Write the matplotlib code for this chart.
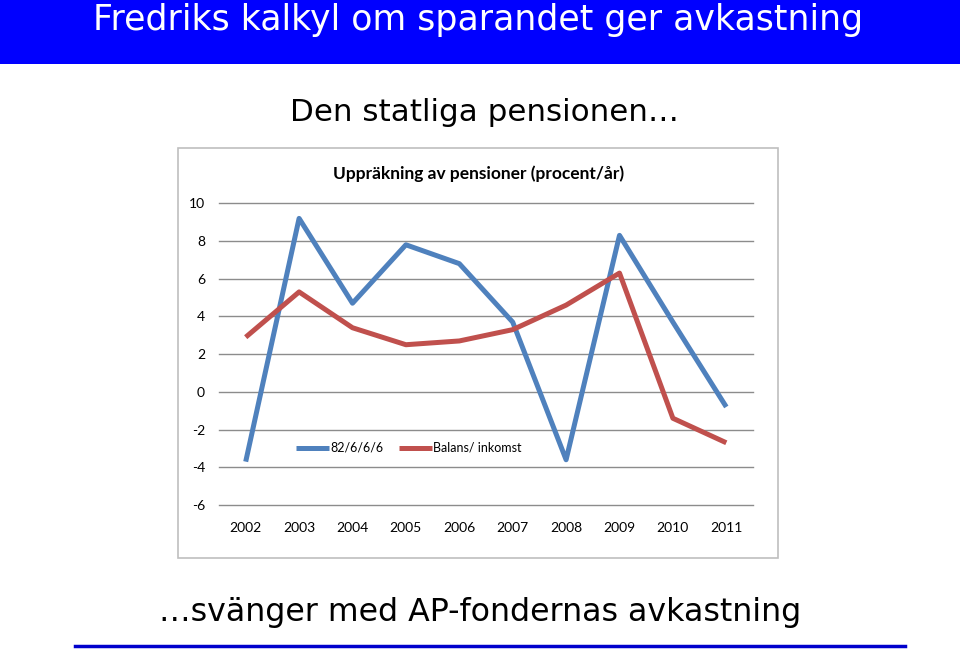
import matplotlib
matplotlib.use("Agg")
import matplotlib.pyplot as plt
from matplotlib.patches import Rectangle
from matplotlib.lines import Line2D

# data
years = ['2002', '2003', '2004', '2005', '2006', '2007', '2008', '2009', '2010', '2011']
blue_values = [-3.7, 9.2, 4.7, 7.8, 6.8, 3.7, -3.6, 8.3, 3.7, -0.8]
red_values = [2.9, 5.3, 3.4, 2.5, 2.7, 3.3, 4.6, 6.3, -1.4, -2.7]
series_names = ['82/6/6/6', 'Balans/ inkomst']
y_ticks = [-6, -4, -2, 0, 2, 4, 6, 8, 10]

BLUE = '#4F81BD'
RED = '#C0504D'

plt.rcParams['axes.unicode_minus'] = False
head_font = 'DejaVu Sans'
chart_font = 'Lato'

W, H = 960, 651
fig = plt.figure(figsize=(W / 100, H / 100), dpi=100)


def fx(px):
    return px / W


def fy(py):
    return 1 - py / H


# banner
fig.patches.append(Rectangle((0, fy(64)), 1, 64 / H, transform=fig.transFigure,
                             facecolor='#0000FF', edgecolor='none', zorder=0))
fig.text(fx(478), fy(30), 'Fredriks kalkyl om sparandet ger avkastning', color='white',
         fontsize=25, family=head_font, ha='center', va='baseline')
fig.text(fx(484), fy(121), 'Den statliga pensionen…', color='black',
         fontsize=22.3, family=head_font, ha='center', va='baseline')
fig.text(fx(480), fy(621), '…svänger med AP-fondernas avkastning', color='black',
         fontsize=22.8, family=head_font, ha='center', va='baseline')
fig.add_artist(Line2D([fx(75), fx(905)], [fy(646), fy(646)], transform=fig.transFigure,
                      color='#0000CC', linewidth=2.5))

# chart frame
fig.patches.append(Rectangle((fx(178), fy(558)), 600 / W, 410 / H, transform=fig.transFigure,
                             facecolor='none', edgecolor='#BFBFBF', linewidth=1.2, zorder=0))

ax = fig.add_axes([fx(219), fy(505), 534 / W, 301.7 / H], zorder=2)
x = list(range(len(years)))
ax.plot(x, blue_values, color=BLUE, linewidth=3.6, solid_capstyle='butt', label=series_names[0], zorder=3)
ax.plot(x, red_values, color=RED, linewidth=3.6, solid_capstyle='butt', label=series_names[1], zorder=3)
ax.set_xlim(-0.5, len(years) - 0.5)
ax.set_ylim(-6, 10)
ax.set_yticks(y_ticks)
ax.set_xticks(x)
ax.set_xticklabels(years)
ax.grid(axis='y', color='#8C8C8C', linewidth=1)
for gl in ax.get_ygridlines():
    gl.set_clip_on(False)
ax.set_axisbelow(True)
for s in ax.spines.values():
    s.set_visible(False)
ax.tick_params(length=0, labelsize=10, pad=12)
ax.tick_params(axis='y', pad=10)
for lab in ax.get_xticklabels() + ax.get_yticklabels():
    lab.set_family(chart_font)
ax.patch.set_alpha(0)

fig.text(fx(479), fy(174), 'Uppräkning av pensioner (procent/år)', fontsize=12.5,
         fontweight='bold', family=chart_font, ha='center', va='center')

leg = ax.legend(loc='center', bbox_to_anchor=(fx(409), fy(448)), bbox_transform=fig.transFigure,
                ncol=2, frameon=False, handlelength=2.6, handletextpad=0.1, columnspacing=1.3,
                prop={'family': chart_font, 'size': 9})

fig.savefig('out.png', dpi=100)
